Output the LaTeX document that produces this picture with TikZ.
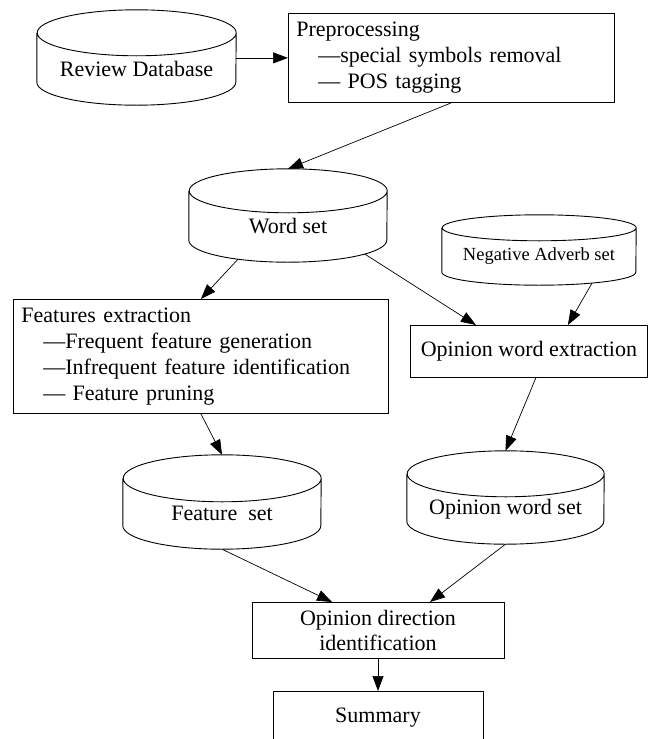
\documentclass[tikz,border=0pt]{standalone}
\usepackage{fontspec}
\setmainfont{Liberation Serif}
\usepackage{tikz}
\usetikzlibrary{arrows.meta, positioning}

% outline of a database drum round the node #1 (x radius #2, y radius #3)
\newcommand{\drum}[3]{%
    \draw[line width=0.9pt] (#1.north west) -- ([yshift=#3]#1.south west)
        arc[start angle=180, end angle=360, x radius=#2, y radius=#3]
        -- (#1.north east)
        arc[start angle=0, end angle=360, x radius=#2, y radius=#3];
}

\begin{document}
\begin{tikzpicture}[x=1pt, y=-1pt,
    every node/.style={font=\fontsize{22}{26}\selectfont},
    db/.style={inner sep=0pt},
    box/.style={draw, line width=0.8pt, rectangle, inner sep=8pt},
    arr/.style={line width=0.7pt, -{Triangle[length=15pt, width=11pt]}}]
    \useasboundingbox (0,0) rectangle (649,739);

    % Top row: database and preprocessing
    \node[db, minimum width=199pt, minimum height=72pt] (rd) at (136.5, 69) {Review Database};
    \drum{rd}{99.5pt}{23pt}
    \node[box, anchor=north west, minimum width=326pt, minimum height=89pt, text width=310pt, align=left] (pre) at (288, 13) {
        Preprocessing\\
        \hspace*{22pt}—special symbols removal\\
        \hspace*{22pt}— POS tagging};

    % Word set and negative adverbs
    \node[db, minimum width=198pt, minimum height=71pt] (ws) at (288, 226.5) {Word set};
    \drum{ws}{99pt}{22pt}
    \node[db, minimum width=194pt, minimum height=57pt, font=\fontsize{18.5}{22}\selectfont] (na) at (539, 256.5) {Negative Adverb set};
    \drum{na}{97pt}{13pt}

    % Extraction steps
    \node[box, anchor=north west, minimum width=375pt, minimum height=114pt, text width=359pt, align=left] (fe) at (13, 299) {
        Features extraction\\
        \hspace*{22pt}—Frequent feature generation\\
        \hspace*{22pt}—Infrequent feature identification\\
        \hspace*{22pt}— Feature pruning};
    \node[box, anchor=north west, minimum width=237pt, minimum height=52pt] (owe) at (410, 325) {Opinion word extraction};

    % Result sets
    \node[db, minimum width=198pt, minimum height=70.5pt] (fs) at (222, 513.75) {Feature\ \ set};
    \drum{fs}{99pt}{23.5pt}
    \node[db, minimum width=197pt, minimum height=70pt] (ows) at (505.5, 509) {Opinion word set};
    \drum{ows}{98.5pt}{23pt}

    % Final steps
    \node[box, anchor=north, minimum width=252pt, minimum height=52pt, align=center, font=\fontsize{22}{25}\selectfont] (odi) at (378, 602) {Opinion direction\\identification};
    \node[box, anchor=north, minimum width=210pt, minimum height=52pt] (sum) at (378, 691) {Summary};

    % Connectors
    \draw[arr] (rd.east |- pre.west) -- (pre.west);
    \draw[arr] (pre.south) -- ([yshift=22pt]ws.north);
    \draw[arr] ([xshift=-50pt, yshift=3pt]ws.south) -- (fe.north);
    \draw[arr] ([xshift=77pt, yshift=8pt]ws.south) -- ([xshift=-53pt]owe.north);
    \draw[arr] ([xshift=53pt, yshift=2pt]na.south) -- ([xshift=39pt]owe.north);
    \draw[arr] (fe.south) -- ([yshift=23.5pt]fs.north);
    \draw[arr] ([xshift=7pt]owe.south) -- ([yshift=23pt]ows.north);
    \draw[arr] (fs.south) -- ([xshift=-46pt]odi.north);
    \draw[arr] (ows.south) -- ([xshift=52pt]odi.north);
    \draw[arr] (odi) -- (sum);
\end{tikzpicture}
\end{document}
